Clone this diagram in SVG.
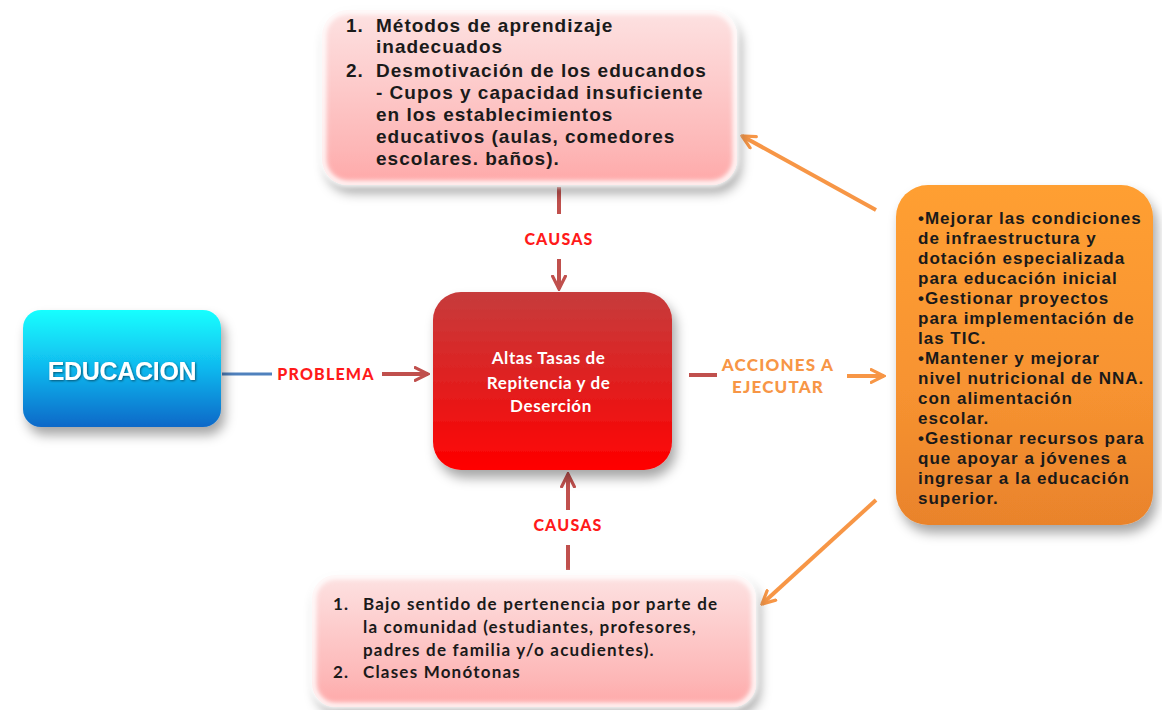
<svg xmlns="http://www.w3.org/2000/svg" width="1162" height="710" viewBox="0 0 1162 710">
<defs>
<linearGradient id="gPink" x1="0" y1="0" x2="0" y2="1">
<stop offset="0" stop-color="#fde2e2"/><stop offset="0.8" stop-color="#fdb6b6"/><stop offset="1" stop-color="#ffa8a8"/>
</linearGradient>
<linearGradient id="gRed" x1="0" y1="0" x2="0" y2="1">
<stop offset="0" stop-color="#c63c3c"/><stop offset="0.5" stop-color="#e02020"/><stop offset="1" stop-color="#ff0000"/>
</linearGradient>
<linearGradient id="gCyan" x1="0" y1="0" x2="0" y2="1">
<stop offset="0" stop-color="#18ffff"/><stop offset="0.5" stop-color="#10b8ee"/><stop offset="1" stop-color="#0868c8"/>
</linearGradient>
<linearGradient id="gOrange" x1="0" y1="0" x2="0" y2="1">
<stop offset="0" stop-color="#ff9f30"/><stop offset="0.6" stop-color="#f79330"/><stop offset="1" stop-color="#e9832c"/>
</linearGradient>
<filter id="sh" x="-20%" y="-20%" width="150%" height="150%">
<feDropShadow dx="4" dy="8" stdDeviation="6" flood-color="#000" flood-opacity="0.35"/>
</filter>
<filter id="blur" x="-10%" y="-10%" width="120%" height="120%">
<feGaussianBlur stdDeviation="2.5"/>
</filter>
<filter id="tsh" x="-10%" y="-30%" width="130%" height="160%">
<feDropShadow dx="1" dy="1" stdDeviation="1" flood-color="#000" flood-opacity="0.5"/>
</filter>
<marker id="aRed" viewBox="0 0 10 10" refX="9" refY="5" markerWidth="4" markerHeight="4" orient="auto" markerUnits="strokeWidth">
<path d="M1,1 L9,5 L1,9" fill="none" stroke="#c0504d" stroke-width="2" stroke-linecap="round"/>
</marker>
<marker id="aOr" viewBox="0 0 10 10" refX="9" refY="5" markerWidth="4" markerHeight="4" orient="auto" markerUnits="strokeWidth">
<path d="M1,1 L9,5 L1,9" fill="none" stroke="#f79646" stroke-width="2" stroke-linecap="round"/>
</marker>
</defs>
<style>
.pink{fill:url(#gPink);filter:url(#sh)}
.glow{fill:none;stroke:#ffffff;stroke-width:6;filter:url(#blur)}
.t1{font-family:"Liberation Sans",Arial,sans-serif;font-weight:bold;font-size:19px;letter-spacing:1px;fill:#1a1a1a}
.t2{font-family:Lato,"Open Sans",sans-serif;font-weight:bold;font-size:17px;letter-spacing:1.2px;fill:#1a1a1a}
.t3{font-family:"Liberation Sans",Arial,sans-serif;font-weight:bold;font-size:17px;letter-spacing:1px;fill:#1a1a1a}
.lbl{font-family:Lato,"Open Sans",sans-serif;font-weight:900;font-size:16px;fill:#ff1a1a;letter-spacing:1.2px}
.lblo{font-family:Lato,"Open Sans",sans-serif;font-weight:900;font-size:17px;fill:#f79646;letter-spacing:1.2px}
.cr{stroke:#c0504d;stroke-width:4;fill:none}
.co{stroke:#f79646;stroke-width:4;fill:none}
</style>

<g id="connectors">
<line class="cr" x1="559" y1="187" x2="559" y2="214"/>
<line class="cr" x1="559" y1="259" x2="559" y2="289" marker-end="url(#aRed)"/>
<line class="cr" x1="568" y1="570" x2="568" y2="545"/>
<line class="cr" x1="568" y1="510" x2="568" y2="474" marker-end="url(#aRed)"/>
<line x1="222" y1="374" x2="272" y2="374" stroke="#4f81bd" stroke-width="3"/>
<line class="cr" x1="382" y1="374" x2="428" y2="374" marker-end="url(#aRed)"/>
<line class="cr" x1="689" y1="375" x2="717" y2="375"/>
<line class="co" x1="847" y1="376" x2="884" y2="376" marker-end="url(#aOr)"/>
<line class="co" x1="876" y1="210" x2="742" y2="136" marker-end="url(#aOr)"/>
<line class="co" x1="876" y1="500" x2="762" y2="604" marker-end="url(#aOr)"/>
<text class="lbl" x="559" y="245" text-anchor="middle">CAUSAS</text>
<text class="lbl" x="568" y="531" text-anchor="middle">CAUSAS</text>
<text class="lbl" x="326" y="380" text-anchor="middle">PROBLEMA</text>
<text class="lblo" x="778" y="371" text-anchor="middle">ACCIONES A</text>
<text class="lblo" x="778" y="393" text-anchor="middle">EJECUTAR</text>
</g>

<g id="top-causes">
<rect class="pink" x="322" y="10" width="415" height="175" rx="26"/>
<rect class="glow" x="323" y="11" width="413" height="173" rx="25"/>
<text class="t1"><tspan x="346" y="32">1.</tspan><tspan x="376" y="32">Métodos de aprendizaje</tspan>
<tspan x="376" y="53">inadecuados</tspan>
<tspan x="346" y="77">2.</tspan><tspan x="376" y="77">Desmotivación de los educandos</tspan>
<tspan x="376" y="99">- Cupos y capacidad insuficiente</tspan>
<tspan x="376" y="121">en los establecimientos</tspan>
<tspan x="376" y="143">educativos (aulas, comedores</tspan>
<tspan x="376" y="165">escolares. baños).</tspan></text>
</g>

<g id="bottom-causes">
<rect class="pink" x="312" y="575" width="444" height="132" rx="24"/>
<rect class="glow" x="313" y="576" width="442" height="130" rx="23"/>
<text class="t2"><tspan x="333" y="610">1.</tspan><tspan x="363" y="610">Bajo sentido de pertenencia por parte de</tspan>
<tspan x="363" y="633">la comunidad (estudiantes, profesores,</tspan>
<tspan x="363" y="656">padres de familia y/o acudientes).</tspan>
<tspan x="333" y="678">2.</tspan><tspan x="363" y="678">Clases Monótonas</tspan></text>
</g>

<g id="educacion">
<rect x="23" y="310" width="198" height="117" rx="18" fill="url(#gCyan)" filter="url(#sh)"/>
<text x="122" y="380" text-anchor="middle" font-family="'Liberation Sans',Arial,sans-serif" font-weight="bold" font-size="25" fill="#ffffff" filter="url(#tsh)" letter-spacing="-0.3">EDUCACION</text>
</g>

<g id="problem">
<rect x="433" y="292" width="239" height="178" rx="28" fill="url(#gRed)" filter="url(#sh)"/>
<text font-family="Lato,'Open Sans',sans-serif" font-weight="bold" font-size="17" letter-spacing="0.6" fill="#ffffff" text-anchor="middle">
<tspan x="551" y="364">Altas Tasas de</tspan>
<tspan x="551" y="389">Repitencia y de</tspan>
<tspan x="551" y="412">Deserción</tspan></text>
</g>

<g id="actions">
<rect x="896" y="185" width="257" height="340" rx="32" fill="url(#gOrange)" filter="url(#sh)"/>
<text class="t3"><tspan x="918" y="224">•Mejorar las condiciones</tspan>
<tspan x="918" y="244">de infraestructura y</tspan>
<tspan x="918" y="264">dotación especializada</tspan>
<tspan x="918" y="284">para educación inicial</tspan>
<tspan x="918" y="304">•Gestionar proyectos</tspan>
<tspan x="918" y="324">para implementación de</tspan>
<tspan x="918" y="344">las TIC.</tspan>
<tspan x="918" y="364">•Mantener y mejorar</tspan>
<tspan x="918" y="384">nivel nutricional de NNA.</tspan>
<tspan x="918" y="404">con alimentación</tspan>
<tspan x="918" y="424">escolar.</tspan>
<tspan x="918" y="444">•Gestionar recursos para</tspan>
<tspan x="918" y="464">que  apoyar a jóvenes a</tspan>
<tspan x="918" y="484">ingresar a la educación</tspan>
<tspan x="918" y="504">superior.</tspan></text>
</g>
</svg>
